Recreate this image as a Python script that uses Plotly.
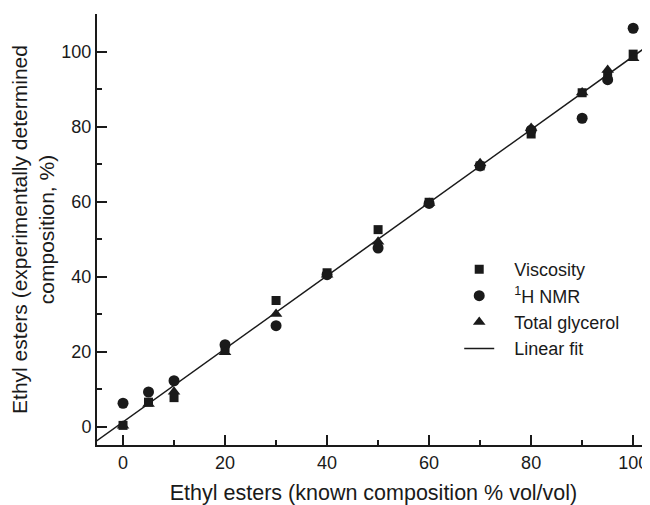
import plotly.graph_objects as go

# Known composition (% vol/vol)
known = [0, 5, 10, 20, 30, 40, 50, 60, 70, 80, 90, 95, 100]
# Experimentally determined composition (%)
viscosity = [0.3, 6.5, 7.7, 21.0, 33.6, 41.0, 52.5, 59.8, 69.5, 78.0, 89.0, 93.5, 99.3]
nmr = [6.2, 9.2, 12.2, 21.8, 26.9, 40.5, 47.6, 59.5, 69.5, 79.0, 82.2, 92.5, 106.2]
glycerol = [0.2, 6.0, 9.3, 19.8, 30.0, 40.5, 49.3, 59.6, 70.2, 79.6, 89.1, 95.1, 98.2]
# Linear fit parameters
fit_slope = 0.975
fit_intercept = 1.2
fit_x = [-6, 104]
fit_y = [fit_slope * v + fit_intercept for v in fit_x]

x_ticks = [0, 20, 40, 60, 80, 100]
y_ticks = [0, 20, 40, 60, 80, 100]

FONT = "Liberation Sans, Arial, Helvetica, sans-serif"
INK = "#1a1a1a"
PAD = "\u00a0\u00a0\u00a0"

fig = go.Figure()
fig.add_trace(go.Scatter(x=fit_x, y=fit_y, mode="lines", name="Linear fit",
                         line=dict(color=INK, width=1.5), showlegend=False))
fig.add_trace(go.Scatter(x=known, y=viscosity, mode="markers", name=PAD + "Viscosity",
                         marker=dict(symbol="square", size=9, color=INK)))
fig.add_trace(go.Scatter(x=known, y=nmr, mode="markers", name=PAD + "<sup>1</sup>H NMR",
                         marker=dict(symbol="circle", size=11, color=INK)))
fig.add_trace(go.Scatter(x=known, y=glycerol, mode="markers", name=PAD + "Total glycerol",
                         marker=dict(symbol="triangle-up", size=11, color=INK)))
# legend entry for the fit line
fig.add_trace(go.Scatter(x=[None], y=[None], mode="lines", name=PAD + "Linear fit",
                         line=dict(color=INK, width=1.5)))

axis_common = dict(
    showline=True, linecolor=INK, linewidth=2,
    ticks="inside", ticklen=10, tickwidth=2, tickcolor=INK,
    showgrid=False, zeroline=False, mirror=False, automargin=False,
    tickfont=dict(family=FONT, size=18, color=INK),
    minor=dict(ticks="inside", ticklen=5, tickwidth=2, tickcolor=INK, dtick=10, tick0=0),
)

fig.update_xaxes(range=[-5.1, 103.3], tickvals=x_ticks,
                 title=dict(text="Ethyl esters (known composition % vol/vol)",
                            font=dict(family=FONT, size=21.5, color=INK), standoff=13),
                 **axis_common)
fig.update_yaxes(range=[-4.93, 110], tickvals=y_ticks,
                 title=dict(text="Ethyl esters (experimentally determined<br>composition, %)",
                            font=dict(family=FONT, size=21, color=INK), standoff=3),
                 **axis_common)

# the page body has an 8px margin, so the figure is sized to end at the window edge
fig.update_layout(
    width=642, height=497,
    margin=dict(l=89, r=0, t=6, b=60, pad=0),
    plot_bgcolor="white", paper_bgcolor="white",
    font=dict(family=FONT, color=INK),
    legend=dict(x=0.655, y=0.45, xanchor="left", yanchor="top",
                font=dict(family=FONT, size=18, color=INK),
                bgcolor="rgba(0,0,0,0)", tracegroupgap=0),
)

fig.write_html("out.html")
